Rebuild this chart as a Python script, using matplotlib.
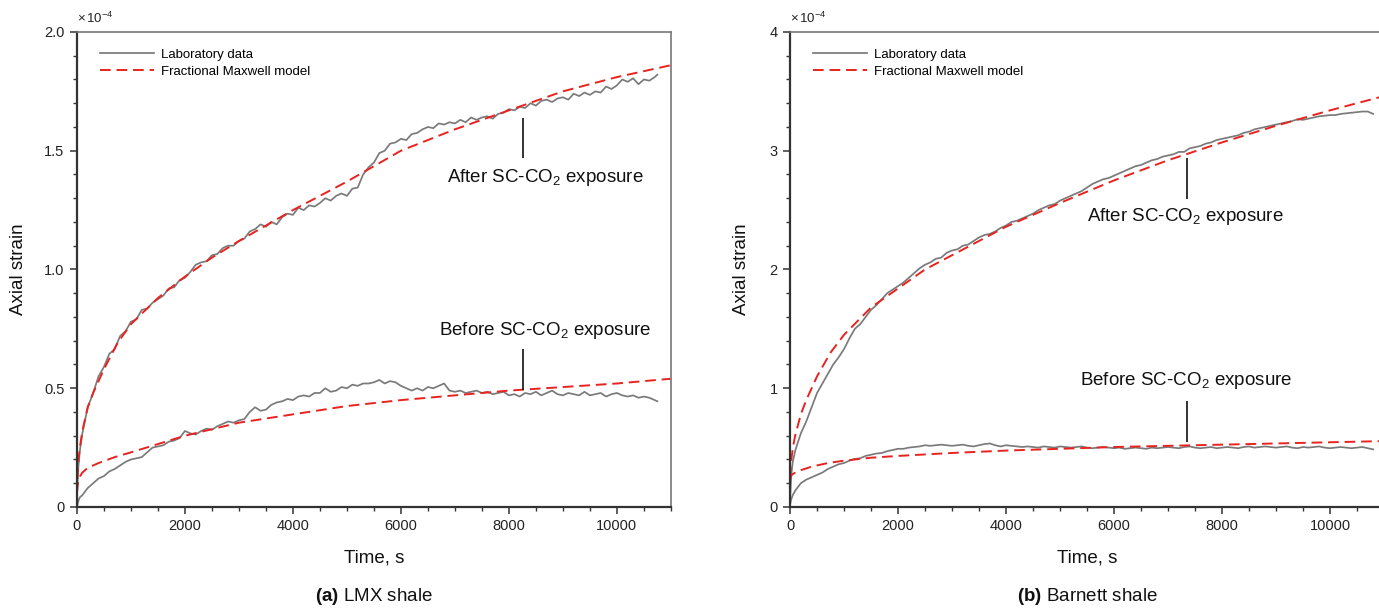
import matplotlib
matplotlib.use('Agg')
import matplotlib.pyplot as plt
from matplotlib.ticker import MultipleLocator, FixedLocator, FixedFormatter

plt.rcParams['font.family'] = ['Liberation Sans', 'DejaVu Sans']
plt.rcParams['mathtext.fontset'] = 'custom'
plt.rcParams['mathtext.rm'] = 'Liberation Sans'
plt.rcParams['mathtext.it'] = 'Liberation Sans:italic'
plt.rcParams['mathtext.bf'] = 'Liberation Sans:bold'

# ---- data (axial strain in units of 1e-4, time in s) ----
# (a) LMX shale, laboratory data
t_lab_a = [0, 20, 50] + list(range(100, 10800, 100)) + [10750]
lmx_after_lab = [0.04, 0.15, 0.23,
                 0.31, 0.42, 0.48, 0.55, 0.59, 0.645, 0.665, 0.72, 0.74, 0.78,
                 0.79, 0.83, 0.835, 0.86, 0.875, 0.89, 0.92, 0.925, 0.955, 0.965,
                 0.99, 1.02, 1.03, 1.035, 1.06, 1.065, 1.09, 1.10, 1.10, 1.12,
                 1.13, 1.16, 1.17, 1.19, 1.18, 1.20, 1.19, 1.22, 1.235, 1.23,
                 1.26, 1.25, 1.27, 1.265, 1.28, 1.30, 1.29, 1.31, 1.32, 1.31,
                 1.34, 1.345, 1.40, 1.43, 1.45, 1.49, 1.50, 1.53, 1.535, 1.55,
                 1.545, 1.57, 1.575, 1.59, 1.60, 1.595, 1.615, 1.61, 1.62, 1.615,
                 1.63, 1.62, 1.64, 1.63, 1.64, 1.645, 1.635, 1.655, 1.66, 1.675,
                 1.67, 1.685, 1.68, 1.70, 1.69, 1.71, 1.715, 1.705, 1.72, 1.725,
                 1.715, 1.74, 1.73, 1.745, 1.735, 1.75, 1.745, 1.77, 1.76, 1.775,
                 1.80, 1.79, 1.805, 1.78, 1.80, 1.795, 1.81,
                 1.82]
lmx_before_lab = [0.0, 0.02, 0.04,
                  0.05, 0.08, 0.10, 0.12, 0.13, 0.15, 0.16, 0.175, 0.19, 0.20,
                  0.205, 0.21, 0.23, 0.25, 0.255, 0.26, 0.275, 0.28, 0.29, 0.32,
                  0.31, 0.305, 0.32, 0.33, 0.325, 0.34, 0.35, 0.36, 0.355, 0.365,
                  0.37, 0.40, 0.42, 0.405, 0.41, 0.43, 0.44, 0.445, 0.455, 0.45,
                  0.465, 0.47, 0.465, 0.48, 0.48, 0.50, 0.485, 0.49, 0.505, 0.50,
                  0.515, 0.51, 0.52, 0.52, 0.525, 0.535, 0.52, 0.53, 0.525, 0.51,
                  0.50, 0.49, 0.50, 0.49, 0.505, 0.50, 0.51, 0.52, 0.49, 0.485,
                  0.49, 0.48, 0.485, 0.49, 0.48, 0.485, 0.475, 0.48, 0.485, 0.47,
                  0.475, 0.465, 0.48, 0.475, 0.485, 0.47, 0.48, 0.49, 0.475, 0.47,
                  0.48, 0.475, 0.47, 0.485, 0.47, 0.475, 0.48, 0.465, 0.475, 0.48,
                  0.47, 0.465, 0.47, 0.46, 0.465, 0.46, 0.45,
                  0.445]

# (a) LMX shale, fractional Maxwell model
t_mod = [0, 10, 30, 60, 100, 200, 300, 500, 750, 1000, 1500, 2000, 2500,
         3000, 4000, 5000, 6000, 7000, 8000, 9000, 10000, 11000]
lmx_after_mod = [0.05, 0.13, 0.20, 0.26, 0.32, 0.42, 0.48, 0.58, 0.69, 0.77,
                 0.88, 0.97, 1.05, 1.12, 1.25, 1.37, 1.50, 1.59, 1.67, 1.75,
                 1.81, 1.86]
t_mod2 = [0, 10, 30, 60, 100, 200, 400, 700, 1000, 1500, 2000, 3000, 4000,
          5000, 6000, 7000, 8000, 9000, 10000, 11000]
lmx_before_mod = [0.06, 0.09, 0.11, 0.13, 0.145, 0.165, 0.185, 0.21, 0.23,
                  0.265, 0.30, 0.355, 0.39, 0.425, 0.45, 0.47, 0.49, 0.505,
                  0.52, 0.54]

# (b) Barnett shale, laboratory data
t_lab_b = [0, 20, 50] + list(range(100, 10900, 100))
bar_after_lab = [0.05, 0.25, 0.38,
                 0.48, 0.62, 0.72, 0.84, 0.96, 1.04, 1.12, 1.20, 1.26, 1.33,
                 1.42, 1.50, 1.54, 1.60, 1.66, 1.70, 1.75, 1.80, 1.83, 1.86,
                 1.89, 1.93, 1.97, 2.01, 2.04, 2.06, 2.09, 2.10, 2.14, 2.16,
                 2.17, 2.20, 2.21, 2.24, 2.27, 2.29, 2.30, 2.32, 2.35, 2.37,
                 2.40, 2.41, 2.43, 2.45, 2.47, 2.50, 2.52, 2.54, 2.55, 2.58,
                 2.60, 2.62, 2.64, 2.66, 2.69, 2.72, 2.74, 2.76, 2.77, 2.79,
                 2.81, 2.83, 2.85, 2.87, 2.88, 2.90, 2.92, 2.93, 2.95, 2.96,
                 2.97, 2.99, 2.99, 3.02, 3.03, 3.04, 3.06, 3.07, 3.09, 3.10,
                 3.11, 3.12, 3.13, 3.15, 3.16, 3.18, 3.19, 3.20, 3.21, 3.22,
                 3.23, 3.24, 3.25, 3.265, 3.26, 3.27, 3.28, 3.29, 3.295, 3.30,
                 3.30, 3.31, 3.315, 3.32, 3.325, 3.33, 3.33, 3.31]
bar_before_lab = [0.02, 0.06, 0.10,
                  0.14, 0.20, 0.23, 0.25, 0.27, 0.29, 0.32, 0.34, 0.36, 0.37,
                  0.39, 0.405, 0.41, 0.43, 0.44, 0.45, 0.455, 0.47, 0.48, 0.49,
                  0.49, 0.50, 0.505, 0.51, 0.52, 0.515, 0.52, 0.525, 0.52, 0.515,
                  0.52, 0.525, 0.515, 0.51, 0.52, 0.53, 0.535, 0.52, 0.51, 0.52,
                  0.515, 0.51, 0.505, 0.51, 0.505, 0.50, 0.51, 0.505, 0.50, 0.51,
                  0.505, 0.50, 0.505, 0.51, 0.50, 0.495, 0.50, 0.505, 0.50, 0.495,
                  0.50, 0.49, 0.495, 0.50, 0.495, 0.49, 0.50, 0.495, 0.50, 0.505,
                  0.50, 0.495, 0.505, 0.51, 0.50, 0.495, 0.50, 0.505, 0.495, 0.50,
                  0.505, 0.50, 0.495, 0.505, 0.51, 0.50, 0.505, 0.51, 0.505, 0.50,
                  0.505, 0.51, 0.50, 0.495, 0.505, 0.50, 0.505, 0.51, 0.50, 0.495,
                  0.50, 0.505, 0.50, 0.495, 0.50, 0.505, 0.495, 0.485]

# (b) Barnett shale, fractional Maxwell model
bar_after_mod = [0.25, 0.33, 0.42, 0.52, 0.61, 0.78, 0.90, 1.10, 1.30, 1.45,
                 1.68, 1.84, 2.00, 2.12, 2.36, 2.56, 2.75, 2.92, 3.07, 3.21,
                 3.34, 3.46]
bar_before_mod = [0.22, 0.25, 0.27, 0.28, 0.29, 0.31, 0.34, 0.37, 0.39, 0.415,
                  0.43, 0.455, 0.475, 0.49, 0.505, 0.515, 0.525, 0.535, 0.545,
                  0.555]

lab_color = '#7a7a7a'
mod_color = '#e8231f'

fig = plt.figure(figsize=(13.79, 6.09), dpi=100)
ax_a = fig.add_axes([0.0558, 0.1675, 0.4307, 0.78])
ax_b = fig.add_axes([0.5729, 0.1675, 0.4307, 0.78])


def style_axes(ax, ymax, yticks, ylabels, yminor):
    ax.set_xlim(0, 11000)
    ax.set_ylim(0, ymax)
    ax.xaxis.set_major_locator(FixedLocator([0, 2000, 4000, 6000, 8000, 10000]))
    ax.xaxis.set_minor_locator(MultipleLocator(500))
    ax.yaxis.set_major_locator(FixedLocator(yticks))
    ax.yaxis.set_major_formatter(FixedFormatter(ylabels))
    ax.yaxis.set_minor_locator(MultipleLocator(yminor))
    ax.tick_params(which='major', length=5, width=1.1, color='#333333',
                   labelsize=10.5, labelcolor='#222222', pad=4)
    ax.tick_params(which='minor', length=3, width=1.0, color='#333333')
    for s in ('left', 'bottom'):
        ax.spines[s].set_color('#333333')
        ax.spines[s].set_linewidth(1.6)
    for s in ('top', 'right'):
        ax.spines[s].set_color('#777777')
        ax.spines[s].set_linewidth(1.2)
    ax.text(0.0, 1.012, r'$\times\,10^{-4}$', transform=ax.transAxes,
            fontsize=9.5, color='#222222', ha='left', va='bottom')


def draw(ax, t_lab, after_lab, before_lab, t1, after_mod, t2, before_mod):
    ax.plot(t_lab, after_lab, color=lab_color, lw=1.25, label='Laboratory data')
    ax.plot(t_lab, before_lab, color=lab_color, lw=1.25)
    ax.plot(t1, after_mod, color=mod_color, lw=1.4, dashes=(5.5, 3),
            label='Fractional Maxwell model')
    ax.plot(t2, before_mod, color=mod_color, lw=1.4, dashes=(5.5, 3))
    ax.legend(loc='upper left', bbox_to_anchor=(0.039, 0.965), frameon=False,
              fontsize=9.5, handlelength=4.1, handletextpad=0.5,
              labelspacing=0.35, borderpad=0, borderaxespad=0)


def annotate(ax, t_line, y0, y1, t_text, y_text, text):
    ax.vlines(t_line, y0, y1, color='#111111', lw=1.2)
    ax.text(t_text, y_text, text, fontsize=13.5, ha='center', va='center',
            color='#111111')


draw(ax_a, t_lab_a, lmx_after_lab, lmx_before_lab, t_mod, lmx_after_mod,
     t_mod2, lmx_before_mod)
draw(ax_b, t_lab_b, bar_after_lab, bar_before_lab, t_mod, bar_after_mod,
     t_mod2, bar_before_mod)

style_axes(ax_a, 2.0, [0, 0.5, 1.0, 1.5, 2.0],
           ['0', '0.5', '1.0', '1.5', '2.0'], 0.1)
style_axes(ax_b, 4.0, [0, 1, 2, 3, 4], ['0', '1', '2', '3', '4'], 0.2)

annotate(ax_a, 8260, 1.469, 1.638, 8670, 1.389, r'After SC-CO$_2$ exposure')
annotate(ax_a, 8260, 0.493, 0.665, 8670, 0.745, r'Before SC-CO$_2$ exposure')
annotate(ax_b, 7352, 2.594, 2.939, 7330, 2.444, r'After SC-CO$_2$ exposure')
annotate(ax_b, 7352, 0.55, 0.895, 7330, 1.069, r'Before SC-CO$_2$ exposure')

for ax, lx, title in ((ax_a, -0.099, r'$\mathbf{(a)}$ LMX shale'),
                      (ax_b, -0.082, r'$\mathbf{(b)}$ Barnett shale')):
    ax.text(lx, 0.5, 'Axial strain', transform=ax.transAxes, rotation=90,
            fontsize=13.5, ha='center', va='center', color='#111111')
    ax.text(0.5, -0.107, 'Time, s', transform=ax.transAxes, fontsize=13.5,
            ha='center', va='center', color='#111111')
    ax.text(0.5, -0.189, title, transform=ax.transAxes, fontsize=13.5,
            ha='center', va='center', color='#111111')

fig.savefig('out.png', dpi=100)
